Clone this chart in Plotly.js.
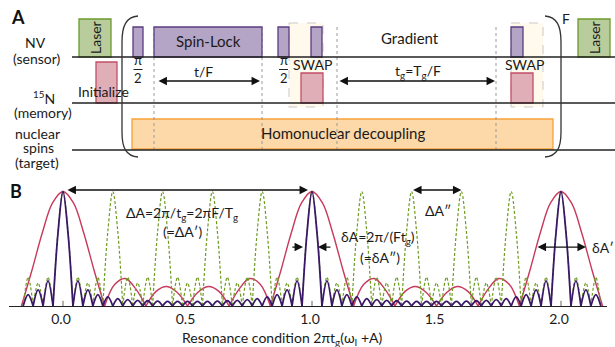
<!DOCTYPE html>
<html><head><meta charset="utf-8">
<script src="https://cdn.plot.ly/plotly-3.0.1.min.js"></script>
<style>html,body{margin:0;padding:0;background:#fff}#chart{width:615px;height:347px}</style>
</head><body><div id="chart"></div>
<script>
// ---------- Panel B data ----------
const gridX = [-0.16,-0.14,-0.12,-0.10,-0.08,-0.06,-0.04,-0.02,
0,0.02,0.04,0.06,0.08,0.10,0.12,0.14,0.16,0.18,0.20,0.22,0.24,0.26,0.28,0.30,0.32,0.34,0.36,0.38,0.40,0.42,0.44,0.46,0.48,
0.50,0.52,0.54,0.56,0.58,0.60,0.62,0.64,0.66,0.68,0.70,0.72,0.74,0.76,0.78,0.80,0.82,0.84,0.86,0.88,0.90,0.92,0.94,0.96,0.98,
1.00,1.02,1.04,1.06,1.08,1.10,1.12,1.14,1.16,1.18,1.20,1.22,1.24,1.26,1.28,1.30,1.32,1.34,1.36,1.38,1.40,1.42,1.44,1.46,1.48,
1.50,1.52,1.54,1.56,1.58,1.60,1.62,1.64,1.66,1.68,1.70,1.72,1.74,1.76,1.78,1.80,1.82,1.84,1.86,1.88,1.90,1.92,1.94,1.96,1.98,
2.00,2.02,2.04,2.06,2.08,2.10,2.12,2.14,2.16];

const purpleY = [0,0.10,0,0.14,0,0.22,0,0.64,
1,
0.64,0,0.22,0,0.14,0,0.10,0,0.08,0,0.065,0,0.055,0,0.05,0,0.046,0,0.043,0,0.041,0,0.04,0,0.04,0,0.04,0,0.041,0,0.043,0,0.046,0,0.05,0,0.055,0,0.065,0,0.08,0,0.10,0,0.14,0,0.22,0,0.64,
1,
0.64,0,0.22,0,0.14,0,0.10,0,0.08,0,0.065,0,0.055,0,0.05,0,0.046,0,0.043,0,0.041,0,0.04,0,0.04,0,0.04,0,0.041,0,0.043,0,0.046,0,0.05,0,0.055,0,0.065,0,0.08,0,0.10,0,0.14,0,0.22,0,0.64,
1,
0.64,0,0.22,0,0.14,0,0.10,0];

const greenY = [0,0.25,0,0.2,0,0.25,0,0.65,
1,
0.65,0,0.25,0,0.2,0,0.25,0,0.65,1,0.65,0,0.25,0,0.2,0,0.25,0,0.65,1,0.65,0,0.25,0,0.2,0,0.25,0,0.65,1,0.65,0,0.25,0,0.2,0,0.25,0,0.65,1,0.65,0,0.25,0,0.2,0,0.25,0,0.65,
1,
0.65,0,0.25,0,0.2,0,0.25,0,0.65,1,0.65,0,0.25,0,0.2,0,0.25,0,0.65,1,0.65,0,0.25,0,0.2,0,0.25,0,0.65,1,0.65,0,0.25,0,0.2,0,0.25,0,0.65,1,0.65,0,0.25,0,0.2,0,0.25,0,0.65,
1,
0.65,0,0.25,0,0.2,0,0.25,0];

const redX = [-0.167,-0.125,-0.083,-0.042,0,0.042,0.083,0.125,0.167,
0.208,0.25,0.292,0.333, 0.375,0.417,0.458,0.5, 0.542,0.583,0.625,0.667, 0.708,0.75,0.792,0.833,
0.875,0.917,0.958,1,1.042,1.083,1.125,1.167,
1.208,1.25,1.292,1.333, 1.375,1.417,1.458,1.5, 1.542,1.583,1.625,1.667, 1.708,1.75,1.792,1.833,
1.875,1.917,1.958,2,2.042,2.083,2.125,2.167];
const redY = [0,0.31,0.64,0.9,1,0.9,0.64,0.31,0,
0.19,0.24,0.15,0, 0.13,0.17,0.12,0, 0.12,0.17,0.13,0, 0.15,0.24,0.19,0,
0.31,0.64,0.9,1,0.9,0.64,0.31,0,
0.19,0.24,0.15,0, 0.13,0.17,0.12,0, 0.12,0.17,0.13,0, 0.15,0.24,0.19,0,
0.31,0.64,0.9,1,0.9,0.64,0.31,0];

const tickVals = [0,0.5,1,1.5,2];
const tickText = ['0.0','0.5','1.0','1.5','2.0'];
const peakMarks = [0,1,2];

// ---------- Panel A sequence (time positions of the blocks) ----------
const laserStart = [79,578], laserEnd = [111,610];
const mwStart = [133,154,278,311,511], mwEnd = [143,262,289,322,523];
const mwLabel = ['','Spin-Lock','','',''];
const memStart = [96,301,511], memEnd = [117,323,533];
const swapStart = [289,511], swapEnd = [323,543];
const decStart = [132], decEnd = [553];
const markerT = [154,262,337,496];
const intervalStart = [157,338], intervalEnd = [260,495];
const intervalLabel = ['t/F','t<sub>g</sub>=T<sub>g</sub>/F'];
const piHalfAt = [138,283.5];
const swapLabelAt = [312,524];

// ---------- geometry helpers ----------
const W = 615, H = 347;
const FONT = 'Lato, "Open Sans", sans-serif';
const TXT = '#1a1a1a';
const rowY = [57,103,150];

function splitAtZeros(xs, ys){
  const ox=[], oy=[];
  for(let i=0;i<xs.length;i++){
    ox.push(xs[i]); oy.push(ys[i]);
    if(ys[i]===0 && i>0 && i<xs.length-1){ ox.push(null); oy.push(null); ox.push(xs[i]); oy.push(ys[i]); }
  }
  return [ox, oy];
}
const r = splitAtZeros(redX, redY);
const g = splitAtZeros(gridX, greenY);
const p = splitAtZeros(gridX, purpleY);

const traces = [
  {x:r[0], y:r[1], type:'scatter', mode:'lines', line:{color:'#c8385c', width:1.4, shape:'spline', smoothing:1}, connectgaps:false, hoverinfo:'skip', xaxis:'x', yaxis:'y'},
  {x:g[0], y:g[1], type:'scatter', mode:'lines', line:{color:'#6e9c22', width:1.2, dash:'3px,2px', shape:'spline', smoothing:1}, connectgaps:false, hoverinfo:'skip', xaxis:'x', yaxis:'y'},
  {x:p[0], y:p[1], type:'scatter', mode:'lines', line:{color:'#3a1868', width:1.8, shape:'spline', smoothing:1}, connectgaps:false, hoverinfo:'skip', xaxis:'x', yaxis:'y'}
];

const shapes = [];
function rect(x0,x1,y0,y1,fill,line,w,dash){
  shapes.push({type:'rect', xref:'x2', yref:'y2', x0:x0, x1:x1, y0:y0, y1:y1, fillcolor:fill,
    line:{color:line, width:w||1.2, dash:dash||'solid'}, layer:'above'});
}
function seg(x0,y0,x1,y1,color,w,dash,xr,yr){
  shapes.push({type:'line', xref:xr||'x2', yref:yr||'y2', x0:x0, y0:y0, x1:x1, y1:y1, line:{color:color, width:w, dash:dash||'solid'}, layer:'above'});
}
swapStart.forEach((s,i)=>rect(s, swapEnd[i], 23, 107, '#fffaec', '#c9c9c9', 1, 'dash'));
decStart.forEach((s,i)=>rect(s, decEnd[i], rowY[2]-31, rowY[2]-1, '#fdd8a8', '#f8a13a', 1.3));
markerT.forEach(t=>seg(t, 27, t, rowY[2], '#9a9a9a', 1, 'dot'));
laserStart.forEach((s,i)=>rect(s, laserEnd[i], rowY[0]-38, rowY[0], '#b9cc9c', '#6c9a2c', 1.3));
mwStart.forEach((s,i)=>rect(s, mwEnd[i], rowY[0]-30, rowY[0], '#b4a5c7', '#5a3c80', 1.3));
memStart.forEach((s,i)=>rect(s, memEnd[i], i===0 ? rowY[1]-41 : rowY[1]-30, rowY[1], '#e0aeb7', '#c24f69', 1.3));
rowY.forEach(y=>seg(72, y, 615, y, '#222', 1.5));
piHalfAt.forEach(c=>seg(c-4.5, 69.5, c+4.5, 69.5, '#222', 1));
shapes.push({type:'path', xref:'x2', yref:'y2', path:'M 138,16 C 126,17 122,26 122,42 L 122,132 C 122,148 126,156 138,157', line:{color:'#333', width:1.3}, layer:'above'});
shapes.push({type:'path', xref:'x2', yref:'y2', path:'M 545,16 C 557,17 561,26 561,42 L 561,132 C 561,148 557,156 545,157', line:{color:'#333', width:1.3}, layer:'above'});
peakMarks.forEach(v=>seg(v, 0, v, 0.045, '#666', 1, 'solid', 'x', 'y'));

const ann = [];
function txt(x,y,t,size,opts){
  ann.push(Object.assign({x:x, y:y, xref:'x2', yref:'y2', text:t, showarrow:false, xanchor:'center', yanchor:'middle',
    borderpad:0, font:{family:FONT, size:size, color:TXT}}, opts||{}));
}
function arrow(x,y,ax,ay,both,xr,yr){
  ann.push({x:x, y:y, ax:ax, ay:ay, xref:xr, yref:yr, axref:xr, ayref:yr, text:'', showarrow:true,
    arrowhead:2, startarrowhead:2, arrowside: both ? 'end+start' : 'end', arrowsize:1.3, startarrowsize:1.3,
    arrowwidth:1.3, arrowcolor:'#111', standoff:0, startstandoff:0});
}
ann.push({x:17.5/W, y:1-17/H, xref:'paper', yref:'paper', xanchor:'center', yanchor:'middle', text:'<b>A</b>', showarrow:false, font:{family:FONT, size:18, color:'#111'}});
ann.push({x:16/W, y:1-191/H, xref:'paper', yref:'paper', xanchor:'center', yanchor:'middle', text:'<b>B</b>', showarrow:false, font:{family:FONT, size:18, color:'#111'}});
txt(35, 42, 'NV', 14);
txt(37, 58, '(sensor)', 14);
txt(44, 97, '<sup>15</sup>N', 14);
txt(43, 112, '(memory)', 14);
txt(37, 133, 'nuclear', 14);
txt(38, 147, 'spins', 14);
txt(37, 162, '(target)', 14);
laserStart.forEach((s,i)=>txt((s+laserEnd[i])/2, rowY[0]-19, 'Laser', 14, {textangle:-90}));
txt(103, 91, 'Initialize', 14);
mwStart.forEach((s,i)=>{ if(mwLabel[i]) txt((s+mwEnd[i])/2, 41, mwLabel[i], 15); });
txt(410, 38, 'Gradient', 15);
piHalfAt.forEach(c=>{ txt(c, 63.5, 'π', 13, {yanchor:'bottom', yshift:-5}); txt(c, 70.5, '2', 13, {yanchor:'top', yshift:2}); });
swapLabelAt.forEach(c=>txt(c, 64, 'SWAP', 14));
intervalStart.forEach((s,i)=>{
  arrow(intervalEnd[i], 81, s, 81, true, 'x2', 'y2');
  txt((s+intervalEnd[i])/2 + (i===0 ? -5 : 1), 71, intervalLabel[i], 14);
});
txt(566, 18, 'F', 14);
txt(343, 133, 'Homonuclear decoupling', 15);

function btxt(x,y,t,opts){
  ann.push(Object.assign({x:x, y:y, xref:'x', yref:'y', text:t, showarrow:false, xanchor:'center', yanchor:'middle',
    font:{family:FONT, size:14, color:TXT}}, opts||{}));
}
arrow(0.984, 1.013, 0.012, 1.013, true, 'x', 'y');
btxt(0.478, 0.805, 'ΔA=2π/t<sub>g</sub>=2πF/T<sub>g</sub>');
btxt(0.478, 0.655, '(=ΔA′)');
arrow(0.964, 0.515, 0.915, 0.515, false, 'x', 'y');
arrow(1.024, 0.515, 1.08, 0.515, false, 'x', 'y');
btxt(1.265, 0.595, 'δA=2π/(Ft<sub>g</sub>)');
btxt(1.273, 0.42, '(=δA″)');
arrow(1.6, 1.013, 1.4, 1.013, true, 'x', 'y');
btxt(1.506, 0.83, 'ΔA″');
arrow(2.1, 0.515, 1.9, 0.515, true, 'x', 'y');
btxt(2.115, 0.515, 'δA′', {xanchor:'left'});
ann.push({x:282/W, y:1-338/H, xref:'paper', yref:'paper', text:'Resonance condition 2πt<sub>g</sub>(ω<sub>I</sub> +A)', showarrow:false,
  xanchor:'center', yanchor:'middle', font:{family:FONT, size:14, color:TXT}});

const x0px = 9, x1px = 607, zeroPx = 63, unitPx = 249;
const layout = {
  width:W, height:H, autosize:false, margin:{l:0,r:0,t:0,b:0},
  paper_bgcolor:'#fff', plot_bgcolor:'rgba(0,0,0,0)', showlegend:false,
  xaxis:{domain:[x0px/W, x1px/W], range:[(x0px-zeroPx)/unitPx, (x1px-zeroPx)/unitPx], anchor:'y',
    showline:true, linecolor:'#222', linewidth:1.4, ticks:'', showgrid:false, zeroline:false,
    tickvals:tickVals, ticktext:tickText, tickfont:{family:FONT, size:14, color:TXT}, ticklabelshift:-2, fixedrange:true},
  yaxis:{domain:[(H-306)/H, (H-180)/H], range:[0, (306-180)/114.5], anchor:'x', visible:false, fixedrange:true},
  xaxis2:{domain:[0,1], range:[0,W], anchor:'y2', visible:false, fixedrange:true},
  yaxis2:{domain:[1-175/H, 1], range:[175,0], anchor:'x2', visible:false, fixedrange:true},
  shapes:shapes, annotations:ann
};
Plotly.newPlot('chart', traces, layout, {displayModeBar:false, staticPlot:true});
</script></body></html>
